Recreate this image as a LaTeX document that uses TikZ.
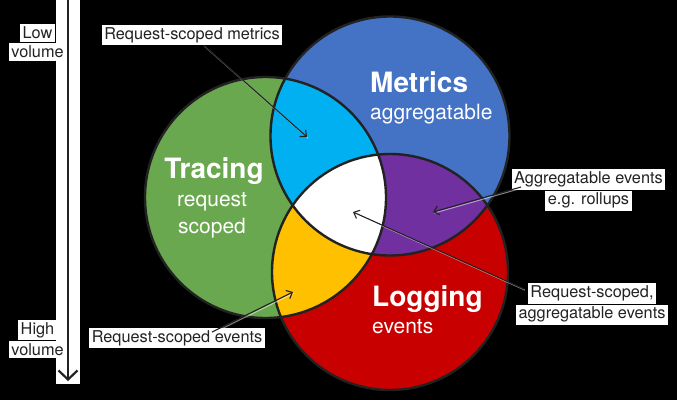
\documentclass[tikz,border=0pt]{standalone}
\usepackage{fontspec}
\setmainfont{TeX Gyre Heros}
\usetikzlibrary{arrows.meta}

\definecolor{tracegreen}{RGB}{106,168,79}
\definecolor{metricblue}{RGB}{68,114,196}
\definecolor{logred}{RGB}{200,0,0}
\definecolor{overlapcyan}{RGB}{0,176,240}
\definecolor{overlappurple}{RGB}{112,48,160}
\definecolor{overlapyellow}{RGB}{255,192,0}
\definecolor{inkgray}{RGB}{34,34,34}

% white backing behind each line of a callout label
\newcommand\whitebg[1]{{\setlength\fboxsep{2.5pt}\colorbox{white}{#1}}}

\begin{document}
\begin{tikzpicture}[x=1pt,y=-1pt,
  ring/.style={draw=inkgray, line width=2.4pt},
  calloutlabel/.style={inner sep=0pt, align=center, text=inkgray,
    font=\fontsize{16.3}{19}\selectfont},
  titletext/.style={inner sep=0pt, text=white,
    font=\bfseries\fontsize{28}{30}\selectfont},
  subtext/.style={inner sep=0pt, text=white,
    font=\fontsize{21}{24}\selectfont},
  callout/.style={draw=inkgray, line width=1.1pt,
    -{Straight Barb[length=5pt,width=9pt]},
    preaction={draw=white, draw opacity=0.5, line width=1.1pt, -,
      transform canvas={xshift=0.9pt,yshift=-1.1pt}}},
  volarrow/.style={draw=inkgray, line width=2.2pt,
    -{Straight Barb[length=9pt,width=19pt]}}
]
\useasboundingbox (0,0) rectangle (677,400);
\fill[black] (0,0) rectangle (677,400);

% circle centres
\coordinate (cT) at (265.5,197.5);
\coordinate (cM) at (390,136);
\coordinate (cL) at (390,272);

% base discs
\fill[tracegreen] (cT) circle[radius=120.5];
\fill[metricblue] (cM) circle[radius=119.5];
\fill[logred]     (cL) circle[radius=118];

% pairwise overlaps
\begin{scope}
  \clip (cT) circle[radius=120.5];
  \fill[overlapcyan] (cM) circle[radius=119.5];
\end{scope}
\begin{scope}
  \clip (cM) circle[radius=119.5];
  \fill[overlappurple] (cL) circle[radius=118];
\end{scope}
\begin{scope}
  \clip (cT) circle[radius=120.5];
  \fill[overlapyellow] (cL) circle[radius=118];
\end{scope}
% triple overlap
\begin{scope}
  \clip (cT) circle[radius=120.5];
  \clip (cM) circle[radius=119.5];
  \fill[white] (cL) circle[radius=118];
\end{scope}

% outlines
\draw[ring] (cT) circle[radius=120.5];
\draw[ring] (cM) circle[radius=119.5];
\draw[ring] (cL) circle[radius=118];

% circle titles
\node[titletext, anchor=base west] (tMetrics) at (370,92) {Metrics};
\node[subtext, anchor=base west] (sMetrics) at (370,119) {aggregatable};
\node[titletext, anchor=base] (tTracing) at (214,178) {Tracing};
\node[subtext, anchor=base] (sTracing1) at (212,206.5) {request};
\node[subtext, anchor=base] (sTracing2) at (212,233) {scoped};
\node[titletext, anchor=base west] (tLogging) at (372,306.5) {Logging};
\node[subtext, anchor=base west] (sLogging) at (372,333) {events};

% volume axis
\fill[white] (56,0) rectangle (80,384);
\coordinate (volTop) at (68,0);
\coordinate (volBot) at (68,381);
\draw[volarrow] (volTop) -- (volBot);
\node[calloutlabel] (lowVol) at (37.5,42.5) {\whitebg{Low}\\\whitebg{volume}};
\node[calloutlabel] (highVol) at (37.5,339) {\whitebg{High}\\\whitebg{volume}};

% callout labels
\node[calloutlabel] (lblMetrics) at (192,35) {\whitebg{Request-scoped metrics}};
\node[calloutlabel] (lblAgg) at (588.5,190) {\whitebg{Aggregatable events}\\\whitebg{e.g. rollups}};
\node[calloutlabel] (lblAll) at (592,304) {\whitebg{Request-scoped,}\\\whitebg{aggregatable events}};
\node[calloutlabel] (lblEvents) at (177,338) {\whitebg{Request-scoped events}};

% arrow targets and starts
\coordinate (tipCyan) at (307,137);
\coordinate (tipPurple) at (433,212);
\coordinate (tipWhite) at (353,212);
\coordinate (tipYellow) at (293,292);
\coordinate (startAgg) at (521,187);
\coordinate (startAll) at (524,289);
\coordinate (startEvents) at (212,332);

\draw[callout] (lblMetrics) -- (tipCyan);
\draw[callout] (startAgg) -- (tipPurple);
\draw[callout] (startAll) -- (tipWhite);
\draw[callout] (startEvents) -- (tipYellow);
\end{tikzpicture}
\end{document}
